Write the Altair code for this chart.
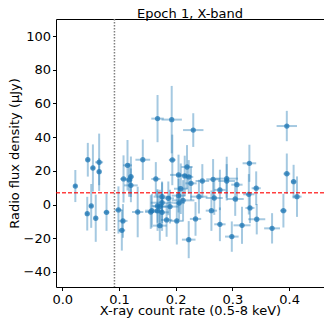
import altair as alt
import pandas as pd

# X-ray count rate (0.5-8 keV) and its error
x_rate = [0.023, 0.045, 0.054, 0.065, 0.065, 0.044, 0.051, 0.059, 0.078, 0.099,
          0.107, 0.105, 0.108, 0.115, 0.118, 0.121, 0.121, 0.133, 0.142, 0.156,
          0.165, 0.168, 0.193, 0.231, 0.194, 0.396, 0.396, 0.408, 0.414, 0.390,
          0.370, 0.330, 0.342, 0.329, 0.331, 0.343, 0.317, 0.299, 0.308, 0.305,
          0.290, 0.290, 0.278, 0.266, 0.268, 0.263, 0.278, 0.247, 0.241, 0.235,
          0.223, 0.220, 0.216, 0.223, 0.227, 0.209, 0.205, 0.205, 0.213, 0.206,
          0.202, 0.190, 0.184, 0.187, 0.176, 0.176, 0.172, 0.168, 0.176, 0.172,
          0.158, 0.168]
x_err = [0.003, 0.004, 0.004, 0.007, 0.004, 0.004, 0.004, 0.003, 0.005, 0.007,
         0.008, 0.006, 0.006, 0.008, 0.006, 0.005, 0.012, 0.010, 0.013, 0.010,
         0.008, 0.011, 0.018, 0.018, 0.006, 0.018, 0.006, 0.005, 0.008, 0.006,
         0.014, 0.012, 0.008, 0.010, 0.008, 0.015, 0.015, 0.012, 0.010, 0.015,
         0.020, 0.015, 0.010, 0.012, 0.015, 0.010, 0.010, 0.012, 0.015, 0.010,
         0.012, 0.010, 0.012, 0.008, 0.010, 0.012, 0.015, 0.012, 0.020, 0.010,
         0.012, 0.015, 0.010, 0.010, 0.015, 0.020, 0.012, 0.010, 0.012, 0.012,
         0.012, 0.010]
# Radio flux density (uJy) and its error
flux = [11.0, 26.6, 21.7, 25.1, 19.5, -5.4, -0.8, -8.1, -4.6, -3.2,
        -9.7, -15.3, 15.2, 23.3, 14.6, 16.5, 11.4, -4.4, 26.6, -4.4,
        15.2, 51.0, 50.4, 44.2, 26.5, 46.6, 18.3, 13.6, 4.7, -3.6,
        -14.1, 24.5, 9.7, 6.1, -2.0, -8.7, -12.3, -19.0, 11.8, 3.3,
        15.4, 14.0, 8.7, 15.0, 3.9, -3.6, -11.7, 14.0, 4.7, -8.5,
        -20.8, 22.3, 17.0, 16.4, 12.6, 9.4, 17.6, 5.3, 2.5, 0.9,
        -9.7, -1.2, -9.1, 3.7, 4.7, 1.1, -1.2, -0.8, -4.6, -12.5,
        -3.6, -3.6]
flux_err = [9.5, 10, 14, 17, 8, 10, 13, 14, 11, 14,
            10, 12, 14, 15, 10, 12, 10, 15, 12, 10,
            10, 14, 20, 10, 15, 9, 12, 10, 12, 10,
            9, 11, 10, 12, 9, 9, 11, 9, 10, 10,
            13, 10, 12, 12, 10, 12, 10, 10, 10, 10,
            11, 13, 12, 10, 10, 15, 12, 10, 12, 10,
            14, 10, 10, 10, 9, 12, 10, 10, 11, 9,
            10, 12]

threshold_flux = [7.0]
threshold_rate = [0.092]
chart_title = ["Epoch 1, X-band"]

x_ticks = [0, 0.1, 0.2, 0.3, 0.4]
y_ticks = [-40, -20, 0, 20, 40, 60, 80, 100]

df = pd.DataFrame({"x": x_rate, "xe": x_err, "y": flux, "ye": flux_err})
df["xlo"] = df.x - df.xe
df["xhi"] = df.x + df.xe
df["ylo"] = df.y - df.ye
df["yhi"] = df.y + df.ye

FONT = "DejaVu Sans"
FS = 13
BLUE = "#1f77b4"
W, H = 268, 268

xscale = alt.Scale(domain=[-0.0111, 0.4616], nice=False, zero=False)
yscale = alt.Scale(domain=[-48.9, 110.1], nice=False, zero=False)

xaxis = alt.Axis(values=x_ticks, format=".1f", tickCount=5,
                 title="X-ray count rate (0.5-8 keV)")
yaxis = alt.Axis(values=y_ticks, tickCount=8,
                 labelExpr="replace(datum.label, '-', '\u2212')",
                 title="Radio flux density (\u03bcJy)")


def X(field):
    return alt.X(field, type="quantitative", scale=xscale, axis=xaxis)


def Y(field):
    return alt.Y(field, type="quantitative", scale=yscale, axis=yaxis)


base = alt.Chart(df)

vbars = base.mark_rule(color=BLUE, opacity=0.4, strokeWidth=2).encode(
    x=X("x"), y=Y("ylo"), y2="yhi:Q",
)
hbars = base.mark_rule(color=BLUE, opacity=0.4, strokeWidth=2).encode(
    x=X("xlo"), x2="xhi:Q", y=Y("y"),
)
points = base.mark_circle(color=BLUE, opacity=0.75, size=28).encode(
    x=X("x"), y=Y("y"),
)
hline = alt.Chart(pd.DataFrame({"y": threshold_flux})).mark_rule(
    color="red", opacity=0.75, strokeWidth=1.5, strokeDash=[4, 2]
).encode(y=Y("y"))
vline = alt.Chart(pd.DataFrame({"x": threshold_rate})).mark_rule(
    color="gray", strokeWidth=1.5, strokeDash=[1.5, 1.5]
).encode(x=X("x"))
title = alt.Chart(pd.DataFrame({"t": chart_title})).mark_text(
    font=FONT, fontSize=FS, color="black", align="center",
    baseline="alphabetic",
).encode(x=alt.value(W / 2), y=alt.value(-1.5), text="t:N")

chart = alt.layer(vbars, hbars, points, hline, vline, title).properties(
    width=W, height=H,
    autosize="none",
    padding={"left": 48, "top": 11, "right": 0, "bottom": 33},
).configure_view(
    stroke="black", strokeWidth=1
).configure_axis(
    grid=False, domain=False, labelOverlap=False, labelFlush=False,
    labelFont=FONT, titleFont=FONT, labelFontSize=FS, titleFontSize=FS,
    labelColor="black", titleColor="black", titleFontWeight="normal",
    tickColor="black", tickSize=3.5, titleBaseline="alphabetic",
).configure_axisX(
    labelBaseline="alphabetic", labelPadding=12.8,
    titleX=W / 2, titleY=27.8,
).configure_axisY(
    labelPadding=2, titleX=-38, titleY=H / 2,
)

chart.save("out.html", embed_options={"renderer": "svg", "actions": False})
